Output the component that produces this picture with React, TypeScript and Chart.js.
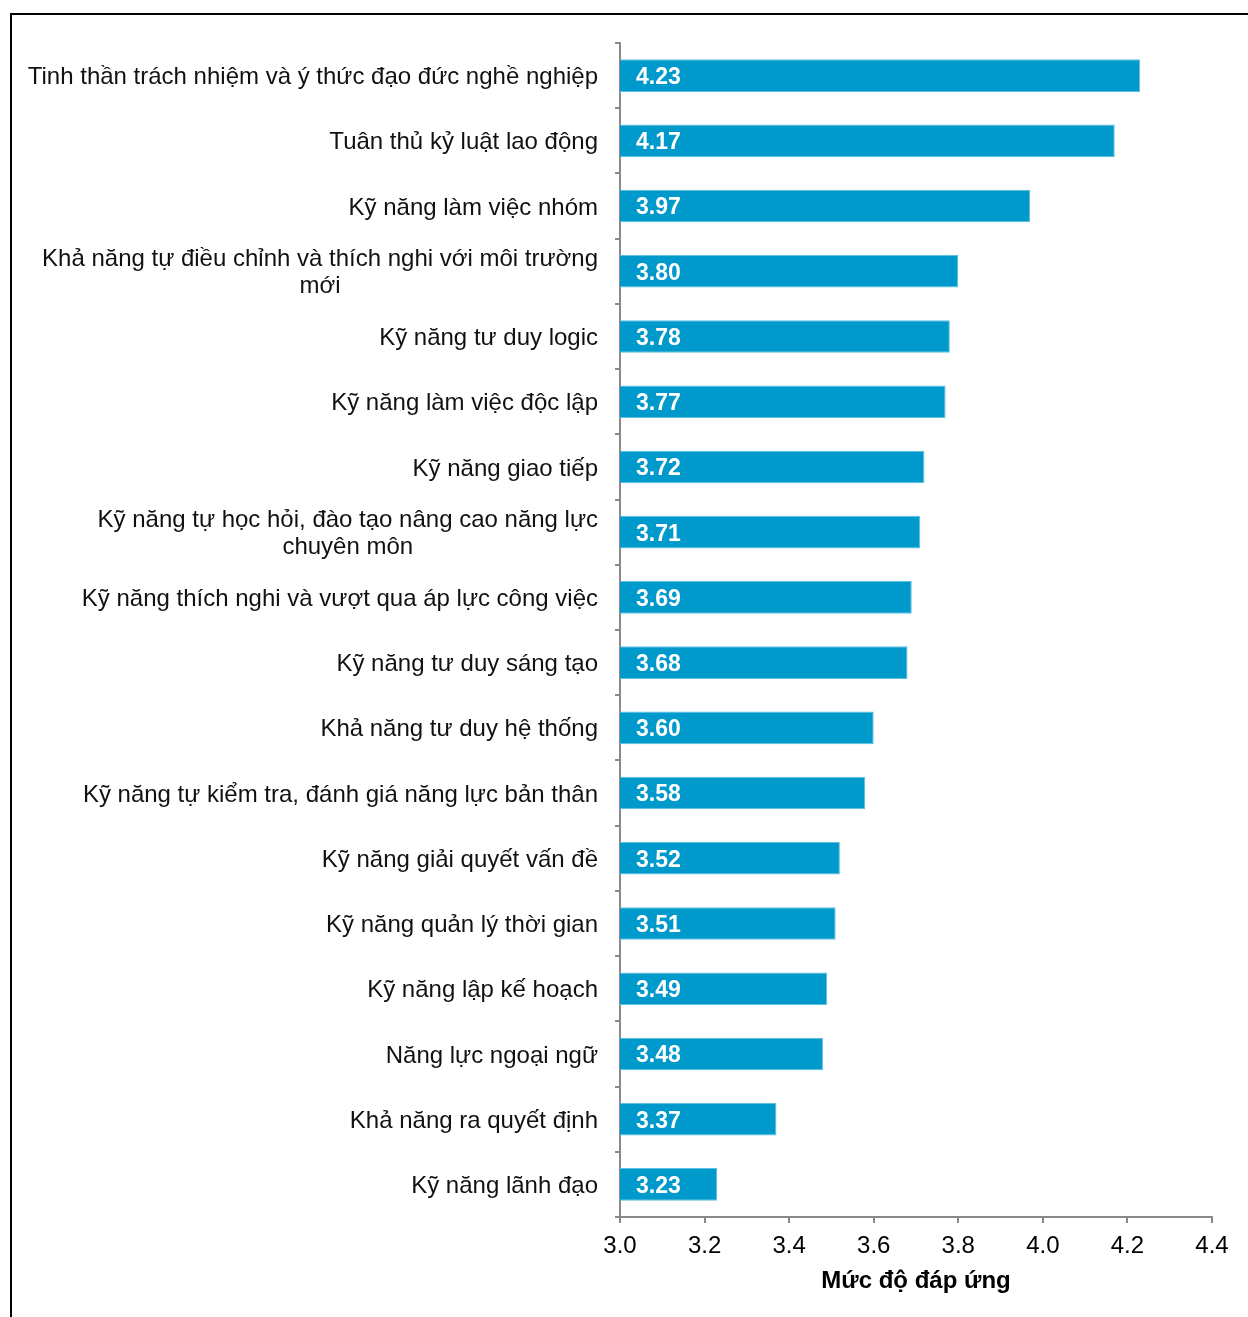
import React, { useEffect, useRef } from "react";
import { Chart, registerables } from "chart.js";

Chart.register(...registerables);

const categories: (string | string[])[] = [
  "Tinh thần trách nhiệm và ý thức đạo đức nghề nghiệp",
  "Tuân thủ kỷ luật lao động",
  "Kỹ năng làm việc nhóm",
  ["Khả năng tự điều chỉnh và thích nghi với môi trường", "mới"],
  "Kỹ năng tư duy logic",
  "Kỹ năng làm việc độc lập",
  "Kỹ năng giao tiếp",
  ["Kỹ năng tự học hỏi, đào tạo nâng cao năng lực", "chuyên môn"],
  "Kỹ năng thích nghi và vượt qua áp lực công việc",
  "Kỹ năng tư duy sáng tạo",
  "Khả năng tư duy hệ thống",
  "Kỹ năng tự kiểm tra, đánh giá năng lực bản thân",
  "Kỹ năng giải quyết vấn đề",
  "Kỹ năng quản lý thời gian",
  "Kỹ năng lập kế hoạch",
  "Năng lực ngoại ngữ",
  "Khả năng ra quyết định",
  "Kỹ năng lãnh đạo",
];

const values: number[] = [
  4.23, 4.17, 3.97, 3.8, 3.78, 3.77, 3.72, 3.71, 3.69, 3.68, 3.6, 3.58, 3.52,
  3.51, 3.49, 3.48, 3.37, 3.23,
];

const axisMin = 3.0;
const axisMax = 4.4;
const axisStep = 0.2;
const axisTitle = "Mức độ đáp ứng";

const FONT = "'Liberation Sans', Arial, sans-serif";
const BAR_COLOR = "#0099CC";
const AXIS_COLOR = "#8a8a8a";

const W = 1248;
const H = 1317;

const framePlugin = {
  id: "frame",
  beforeDraw(chart: any) {
    const ctx = chart.ctx;
    ctx.save();
    ctx.fillStyle = "#000";
    ctx.fillRect(10, 13, 2, H - 13);
    ctx.fillRect(10, 13, W - 10, 2);
    ctx.restore();
  },
};

const labelsPlugin = {
  id: "catLabels",
  afterDraw(chart: any) {
    const ctx = chart.ctx;
    const yScale = chart.scales.y;
    const xScale = chart.scales.x;
    ctx.save();
    // category labels
    ctx.font = `24px ${FONT}`;
    ctx.fillStyle = "#111";
    ctx.textBaseline = "middle";
    ctx.textAlign = "center";
    const rightX = xScale.left - 22;
    const lh = 27;
    categories.forEach((lab, i) => {
      const lines = Array.isArray(lab) ? lab : [lab];
      const y = yScale.getPixelForValue(i);
      const bw = Math.max(...lines.map((l) => ctx.measureText(l).width));
      const cx = rightX - bw / 2;
      const y0 = y - ((lines.length - 1) * lh) / 2;
      lines.forEach((l, j) => ctx.fillText(l, cx, y0 + j * lh + 2));
    });
    // data labels
    ctx.font = `bold 23px ${FONT}`;
    ctx.fillStyle = "#fff";
    ctx.textAlign = "left";
    const meta = chart.getDatasetMeta(0);
    meta.data.forEach((bar: any, i: number) => {
      ctx.fillText(values[i].toFixed(2), xScale.left + 16, bar.y + 2);
    });
    ctx.restore();
  },
};

export default function App() {
  const ref = useRef<HTMLCanvasElement | null>(null);

  useEffect(() => {
    if (!ref.current) return;
    const chart = new Chart(ref.current, {
      type: "bar",
      data: {
        labels: categories.map((c) => (Array.isArray(c) ? c.join(" ") : c)),
        datasets: [
          {
            data: values,
            backgroundColor: BAR_COLOR,
            borderColor: "#5fbfe0",
            borderWidth: 1,
            barPercentage: 0.5,
            categoryPercentage: 1,
          },
        ],
      },
      options: {
        indexAxis: "y",
        animation: false,
        responsive: false,
        devicePixelRatio: 1,
        layout: { padding: { top: 43, right: 36, left: 0, bottom: 0 } },
        plugins: {
          legend: { display: false },
          tooltip: { enabled: false },
        },
        scales: {
          y: {
            type: "category",
            offset: true,
            ticks: { display: false, autoSkip: false },
            grid: {
              offset: true,
              drawOnChartArea: false,
              drawTicks: true,
              tickLength: 5,
              color: AXIS_COLOR,
              lineWidth: 2,
            },
            border: { color: AXIS_COLOR, width: 2 },
            afterFit: (scale: any) => {
              scale.width = 620;
            },
          },
          x: {
            type: "linear",
            min: axisMin,
            max: axisMax,
            ticks: {
              stepSize: axisStep,
              color: "#000",
              font: { family: FONT, size: 24 },
              padding: 9,
              callback: (v: any) => Number(v).toFixed(1),
            },
            grid: {
              drawOnChartArea: false,
              drawTicks: true,
              tickLength: 6,
              color: AXIS_COLOR,
              lineWidth: 2,
            },
            border: { color: AXIS_COLOR, width: 2 },
            title: {
              display: true,
              text: axisTitle,
              color: "#000",
              font: { family: FONT, size: 24, weight: "bold" },
              padding: { top: 0, bottom: 21 },
            },
            afterFit: (scale: any) => {
              scale.height = 100;
            },
          },
        },
      },
      plugins: [framePlugin, labelsPlugin],
    });
    return () => chart.destroy();
  }, []);

  return (
    <div style={{ position: "absolute", left: 0, top: 0, width: W, height: H, background: "#fff" }}>
      <canvas ref={ref} width={W} height={H} style={{ width: W, height: H, display: "block" }} />
    </div>
  );
}
